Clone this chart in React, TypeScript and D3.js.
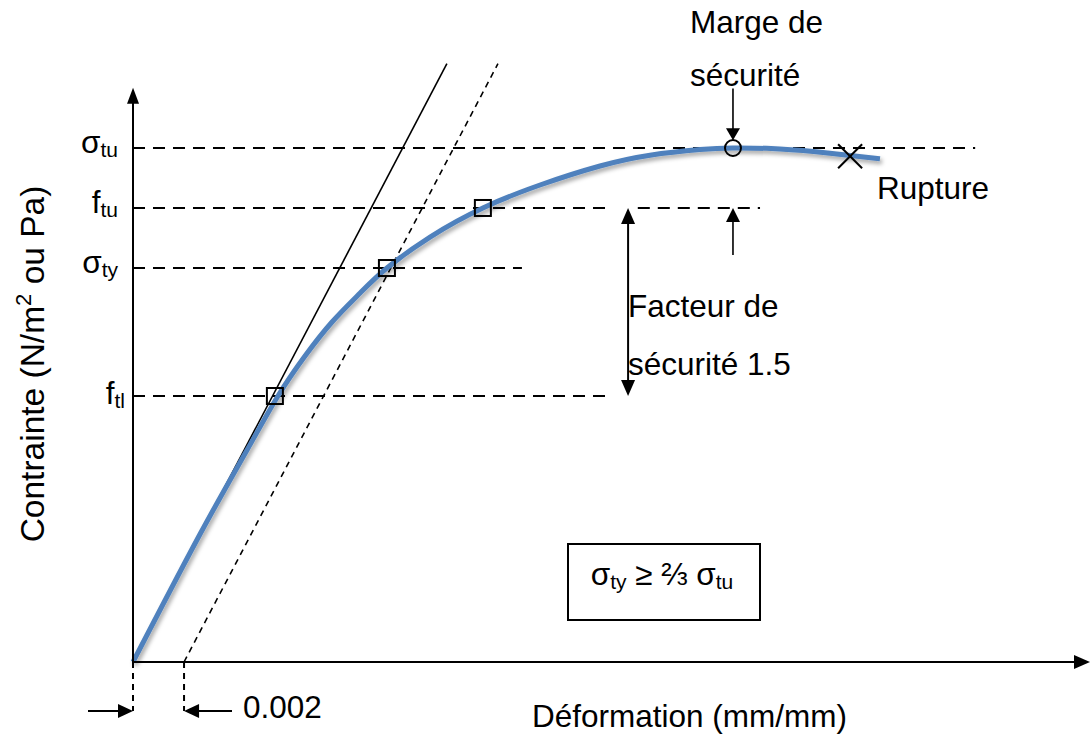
import React from "react";
import * as d3 from "d3";

// strain in units of 0.001 mm/mm, stress in % of σtu
const curveStrain = [0, 2.63, 4.47, 5.68, 6.74, 7.8, 8.9, 9.95, 11.64, 13.71, 15.95, 18.3, 20.26, 22.22, 23.51, 25.35, 27.31, 29.27];
const curveStress = [0, 24.9, 41.25, 51.75, 59.53, 66.15, 71.79, 76.65, 82.68, 88.33, 92.8, 96.5, 98.6, 99.7, 100, 99.8, 99.0, 97.9];

const levelNames = ["σ", "f", "σ", "f"];
const levelSubs = ["tu", "tu", "ty", "tl"];
const levelValues = [100, 88.33, 76.65, 51.75];
const levelLineEnds = [33.0, 18.7, 15.24, 18.77];

const markerStrain = [5.56, 9.95, 13.71];
const markerStress = [51.75, 76.65, 88.33];
const peak = { strain: 23.51, stress: 100 };
const rupture = { strain: 28.1, stress: 98.4 };
const offsetStrain = 2; // 0.002
const elasticEnd = { strain: 12.3, stress: 116.4 };

const W = 1092;
const H = 740;

export default function App() {
  const x = d3.scaleLinear().domain([0, 37.5]).range([133, 1090]);
  const y = d3.scaleLinear().domain([0, 100]).range([662, 148]);
  const pts: [number, number][] = curveStrain.map((s, i) => [x(s), y(curveStress[i])]);
  const line = d3.line().curve(d3.curveNatural);
  const font = "'Liberation Sans', Arial, sans-serif";
  const fs = 31.5;
  const sub = 21;

  const x0 = x(0), y0 = y(0);
  const arrowHead = (tx: number, ty: number, dir: "up" | "down" | "left" | "right", len = 16, hw = 7) => {
    let p: [number, number][] = [];
    if (dir === "down") p = [[tx, ty], [tx - hw, ty - len], [tx + hw, ty - len]];
    if (dir === "up") p = [[tx, ty], [tx - hw, ty + len], [tx + hw, ty + len]];
    if (dir === "right") p = [[tx, ty], [tx - len, ty - hw], [tx - len, ty + hw]];
    if (dir === "left") p = [[tx, ty], [tx + len, ty - hw], [tx + len, ty + hw]];
    return <path d={"M" + p.map((q) => q.join(",")).join("L") + "Z"} fill="#000" />;
  };

  const yTip = y(111.7);
  const xTip = x(37.5);
  const px = x(peak.strain);
  const fx = x(19.4);
  const botY = 711;

  return (
    <svg width={W} height={H} style={{ position: "absolute", left: 0, top: 0, background: "#fff" }} fontFamily={font}>
      <defs>
        <filter id="sh" x="-10%" y="-10%" width="120%" height="130%">
          <feDropShadow dx="2" dy="3" stdDeviation="2" floodColor="#000" floodOpacity="0.35" />
        </filter>
      </defs>

      {/* dashed levels */}
      {levelValues.map((v, i) => (
        <line key={i} x1={x0} x2={x(levelLineEnds[i])} y1={y(v)} y2={y(v)} stroke="#000" strokeWidth={2} strokeDasharray="12,8" />
      ))}
      <line x1={x(19.78)} x2={x(24.57)} y1={y(88.33)} y2={y(88.33)} stroke="#000" strokeWidth={2} strokeDasharray="12,8" />

      {/* elastic lines */}
      <line x1={x0} y1={y0} x2={x(elasticEnd.strain)} y2={y(elasticEnd.stress)} stroke="#000" strokeWidth={1.6} />
      <line x1={x(offsetStrain)} y1={y0} x2={x(elasticEnd.strain + offsetStrain)} y2={y(elasticEnd.stress)} stroke="#000" strokeWidth={1.6} strokeDasharray="6,5" />

      {/* curve */}
      <path d={line(pts) || ""} fill="none" stroke="#4F81BD" strokeWidth={5} strokeLinecap="butt" filter="url(#sh)" />

      {/* markers */}
      {markerStrain.map((s, i) => (
        <rect key={i} x={x(s) - 8} y={y(markerStress[i]) - 8} width={16} height={16} fill="none" stroke="#000" strokeWidth={2} />
      ))}
      <circle cx={px} cy={y(peak.stress)} r={8} fill="none" stroke="#000" strokeWidth={2} />
      <g stroke="#000" strokeWidth={2}>
        <line x1={x(rupture.strain) - 12} x2={x(rupture.strain) + 12} y1={y(rupture.stress) - 12} y2={y(rupture.stress) + 12} />
        <line x1={x(rupture.strain) - 12} x2={x(rupture.strain) + 12} y1={y(rupture.stress) + 12} y2={y(rupture.stress) - 12} />
      </g>

      {/* axes */}
      <line x1={x0} y1={y0} x2={x0} y2={yTip + 10} stroke="#000" strokeWidth={2} />
      {arrowHead(x0, yTip, "up", 16, 6)}
      <line x1={x0} y1={y0} x2={xTip - 10} y2={y0} stroke="#000" strokeWidth={2} />
      {arrowHead(xTip, y0, "right", 16, 7)}

      {/* marge arrows */}
      <line x1={px} x2={px} y1={y(111.6)} y2={y(101.5) - 10} stroke="#000" strokeWidth={1.6} />
      {arrowHead(px, y(101.5), "down", 12, 7)}
      <line x1={px} x2={px} y1={y(79.2)} y2={y(88.33) + 10} stroke="#000" strokeWidth={1.6} />
      {arrowHead(px, y(88.33), "up", 14, 7)}

      {/* facteur arrow */}
      <line x1={fx} x2={fx} y1={y(88.33) + 10} y2={y(51.75) - 10} stroke="#000" strokeWidth={2} />
      {arrowHead(fx, y(88.33), "up", 16, 7)}
      {arrowHead(fx, y(51.75), "down", 16, 7)}

      {/* 0.002 */}
      <line x1={x0} x2={x0} y1={y0} y2={botY} stroke="#000" strokeWidth={2} strokeDasharray="6,5" />
      <line x1={x(offsetStrain)} x2={x(offsetStrain)} y1={y0} y2={botY} stroke="#000" strokeWidth={2} strokeDasharray="6,5" />
      <line x1={88} x2={x0 - 10} y1={botY} y2={botY} stroke="#000" strokeWidth={2} />
      {arrowHead(x0, botY, "right", 15, 7)}
      <line x1={232} x2={x(offsetStrain) + 10} y1={botY} y2={botY} stroke="#000" strokeWidth={2} />
      {arrowHead(x(offsetStrain), botY, "left", 15, 7)}
      <text x={243} y={718} fontSize={fs}>0.002</text>

      {/* level labels */}
      {levelNames.map((n, i) => (
        <text key={i} x={i === 3 ? 125 : 118} y={y(levelValues[i]) + (i === 3 ? 8 : 5)} fontSize={fs} textAnchor="end">
          {n}
          <tspan fontSize={sub} dy={4}>{levelSubs[i]}</tspan>
        </text>
      ))}

      {/* texts */}
      <text x={690} y={33} fontSize={fs}>Marge de</text>
      <text x={690} y={86} fontSize={fs}>sécurité</text>
      <text x={628} y={317} fontSize={fs}>Facteur de</text>
      <text x={628} y={375} fontSize={fs}>sécurité 1.5</text>
      <text x={877} y={199} fontSize={fs}>Rupture</text>

      <rect x={568} y={544} width={192} height={76} fill="none" stroke="#000" strokeWidth={2} />
      <text x={662} y={585} fontSize={fs} textAnchor="middle">
        σ<tspan fontSize={sub} dy={4}>ty</tspan>
        <tspan dy={-4}> ≥ ⅔ σ</tspan>
        <tspan fontSize={sub} dy={4}>tu</tspan>
      </text>

      <text x={532} y={727} fontSize={fs}>Déformation (mm/mm)</text>
      <text transform={`translate(44,364) rotate(-90)`} fontSize={33.5} textAnchor="middle">
        Contrainte (N/m<tspan fontSize={22} dy={-13}>2</tspan>
        <tspan dy={13}> ou Pa)</tspan>
      </text>
    </svg>
  );
}
